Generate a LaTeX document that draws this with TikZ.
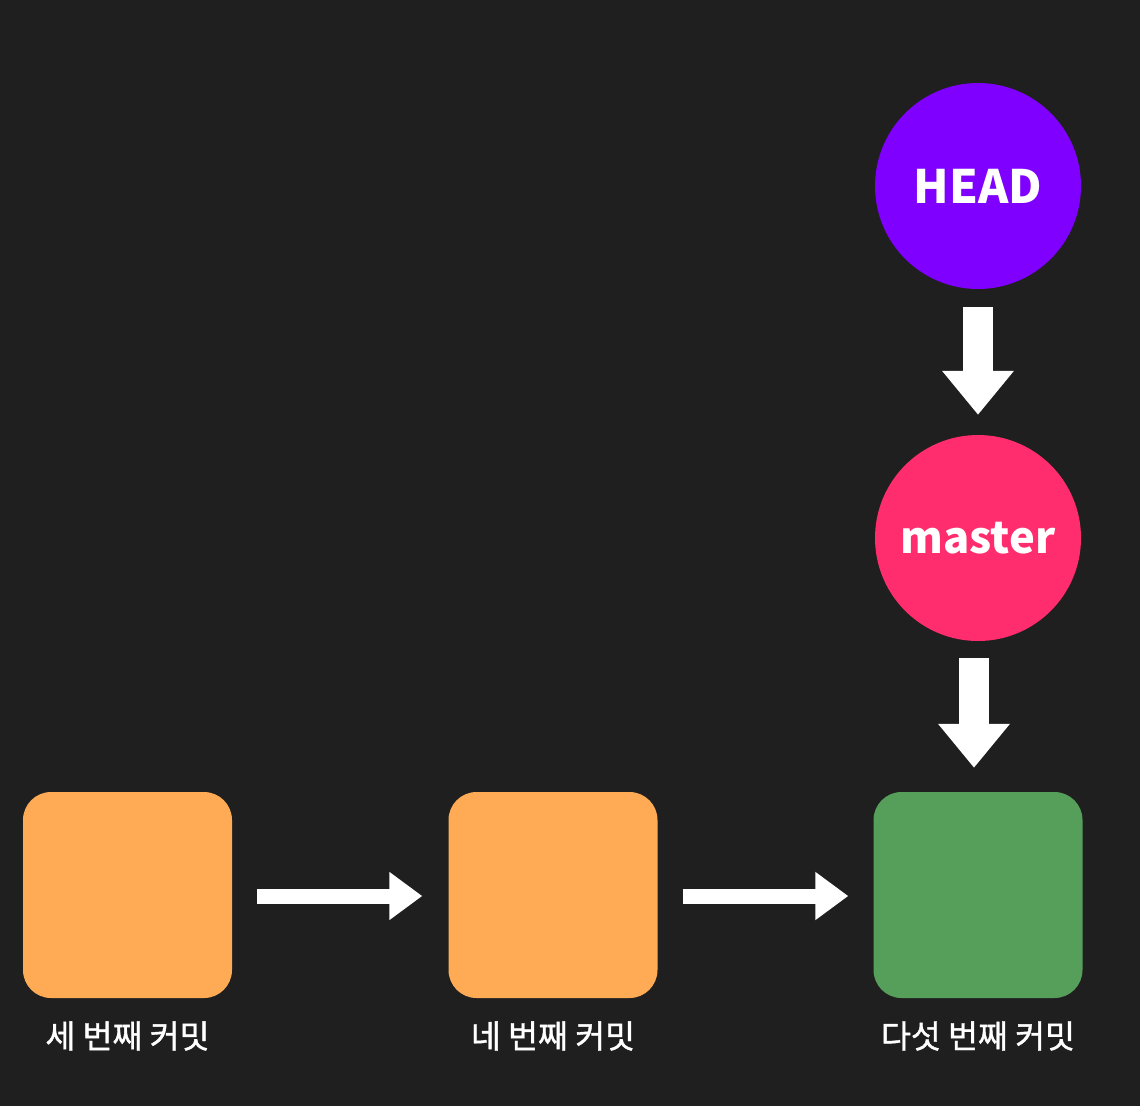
\documentclass[tikz,border=0pt]{standalone}
\usepackage{fontspec}
\newfontfamily\kr{Noto Sans CJK KR}
\newfontfamily\krm[FakeBold=1.2]{Noto Sans CJK KR}
\usetikzlibrary{arrows.meta}
\definecolor{bg}{RGB}{31,31,31}
\definecolor{headc}{RGB}{128,0,255}
\definecolor{masterc}{RGB}{255,44,110}
\definecolor{orangec}{RGB}{255,171,85}
\definecolor{greenc}{RGB}{85,159,90}
\tikzset{
  ptr/.style={circle, minimum size=206pt, inner sep=0pt, text=white, font=\kr\bfseries\fontsize{46}{46}\selectfont},
  commit/.style={rounded corners=28pt, minimum width=209pt, minimum height=206pt, inner sep=0pt},
  lbl/.style={text=white, font=\krm\fontsize{32.5}{32.5}\selectfont, inner sep=0pt},
  bigarrow/.style={draw=white, line width=30pt, -{Triangle[length=44pt 0 0, width=69pt 0 0]}},
  smallarrow/.style={draw=white, line width=15pt, -{Triangle[length=33pt 0 0, width=46pt 0 0]}}
}
\begin{document}
\begin{tikzpicture}[x=1pt,y=-1pt]
\fill[bg] (0,0) rectangle (1140,1106);
\useasboundingbox (0,0) rectangle (1140,1106);
\node[ptr, fill=headc] (head) at (978,186) {HEAD};
\node[ptr, fill=masterc, font=\kr\bfseries\fontsize{43.5}{43.5}\selectfont] (master) at (978,538) {master};
\node[commit, fill=orangec] (c3) at (127.5,895) {};
\node[commit, fill=orangec] (c4) at (553,895) {};
\node[commit, fill=greenc] (c5) at (978,895) {};
\node[lbl] (l3) at (127.5,1036) {세 번째 커밋};
\node[lbl] (l4) at (553,1036) {네 번째 커밋};
\node[lbl] (l5) at (978,1036) {다섯 번째 커밋};
\draw[bigarrow, shorten <=18pt, shorten >=20pt] (head.south) -- (master.north);
\draw[bigarrow, shorten <=17pt, shorten >=24pt] ([xshift=-4pt]master.south) -- ([xshift=-4pt]c5.north);
\draw[smallarrow, shorten <=25pt, shorten >=26pt] ([yshift=-1pt]c3.east) -- ([yshift=-1pt]c4.west);
\draw[smallarrow, shorten <=25pt, shorten >=25pt] ([yshift=-1pt]c4.east) -- ([yshift=-1pt]c5.west);
\end{tikzpicture}
\end{document}
